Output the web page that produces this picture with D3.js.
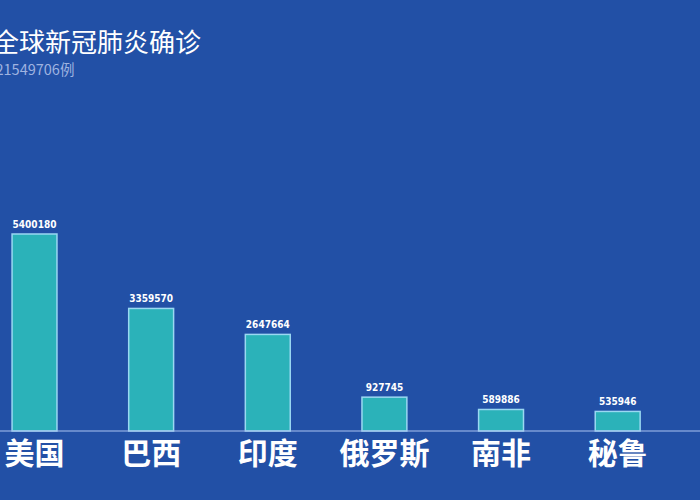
<!DOCTYPE html>
<html>
<head>
<meta charset="utf-8">
<script src="https://cdn.jsdelivr.net/npm/d3@7"></script>
<style>
  html, body { margin: 0; padding: 0; background: #2250a6; overflow: hidden; }
</style>
</head>
<body>
<div id="chart"></div>
<script>
// data
const countries = ["美国", "巴西", "印度", "俄罗斯", "南非", "秘鲁"];
const cases = [5400180, 3359570, 2647664, 927745, 589886, 535946];
const titleText = "全球新冠肺炎确诊";
const subtitleText = "共21549706例";

const width = 700, height = 500;
const baseY = 431;

const svg = d3.select("#chart").append("svg")
    .attr("width", width)
    .attr("height", height)
    .attr("viewBox", [0, 0, width, height]);

svg.append("rect")
    .attr("width", width)
    .attr("height", height)
    .attr("fill", "#2250a6");

// band scale runs off the left edge like the cropped original
const x = d3.scaleBand()
    .domain(countries)
    .range([-23.8, 676])
    .paddingInner(0.615)
    .paddingOuter(0.3075);

const y = d3.scaleLinear()
    .domain([0, 5400180])
    .range([baseY, 234]);

const data = countries.map((c, i) => ({ name: c, value: cases[i] }));

// title (left part is cut by the frame, as in the original)
svg.append("text")
    .attr("x", -7)
    .attr("y", 52)
    .attr("fill", "#ffffff")
    .attr("font-family", "'Noto Sans CJK SC', sans-serif")
    .attr("font-size", 26)
    .text(titleText);

svg.append("text")
    .attr("x", -19)
    .attr("y", 75)
    .attr("fill", "#9fb3e0")
    .attr("font-family", "'Noto Sans CJK SC', sans-serif")
    .attr("font-size", 14.5)
    .text(subtitleText);

// bars
svg.append("g")
    .selectAll("rect")
    .data(data)
    .join("rect")
    .attr("x", d => x(d.name))
    .attr("y", d => y(d.value))
    .attr("width", x.bandwidth())
    .attr("height", d => baseY - y(d.value))
    .attr("fill", "#2bb2b9")
    .attr("stroke", "#9ad8f2")
    .attr("stroke-width", 1.5);

// value labels
svg.append("g")
    .selectAll("text")
    .data(data)
    .join("text")
    .attr("x", d => x(d.name) + x.bandwidth() / 2)
    .attr("y", d => y(d.value) - 6)
    .attr("text-anchor", "middle")
    .attr("fill", "#ffffff")
    .attr("font-family", "'Liberation Sans Narrow', 'DejaVu Sans Condensed', sans-serif")
    .attr("font-weight", "bold")
    .attr("font-size", 10)
    .text(d => d.value);

// x axis
const xAxis = g => g
    .attr("transform", `translate(0,${baseY})`)
    .call(d3.axisBottom(x).tickSize(0).tickPadding(12))
    .call(g => g.select(".domain")
        .attr("d", `M0,0H${width}`)
        .attr("stroke", "#a9c1f0")
        .attr("stroke-width", 1.2))
    .call(g => g.selectAll(".tick text")
        .attr("fill", "#ffffff")
        .attr("font-family", "'Noto Sans CJK SC', sans-serif")
        .attr("font-weight", "bold")
        .attr("font-size", 30));

svg.append("g").call(xAxis);
</script>
</body>
</html>
